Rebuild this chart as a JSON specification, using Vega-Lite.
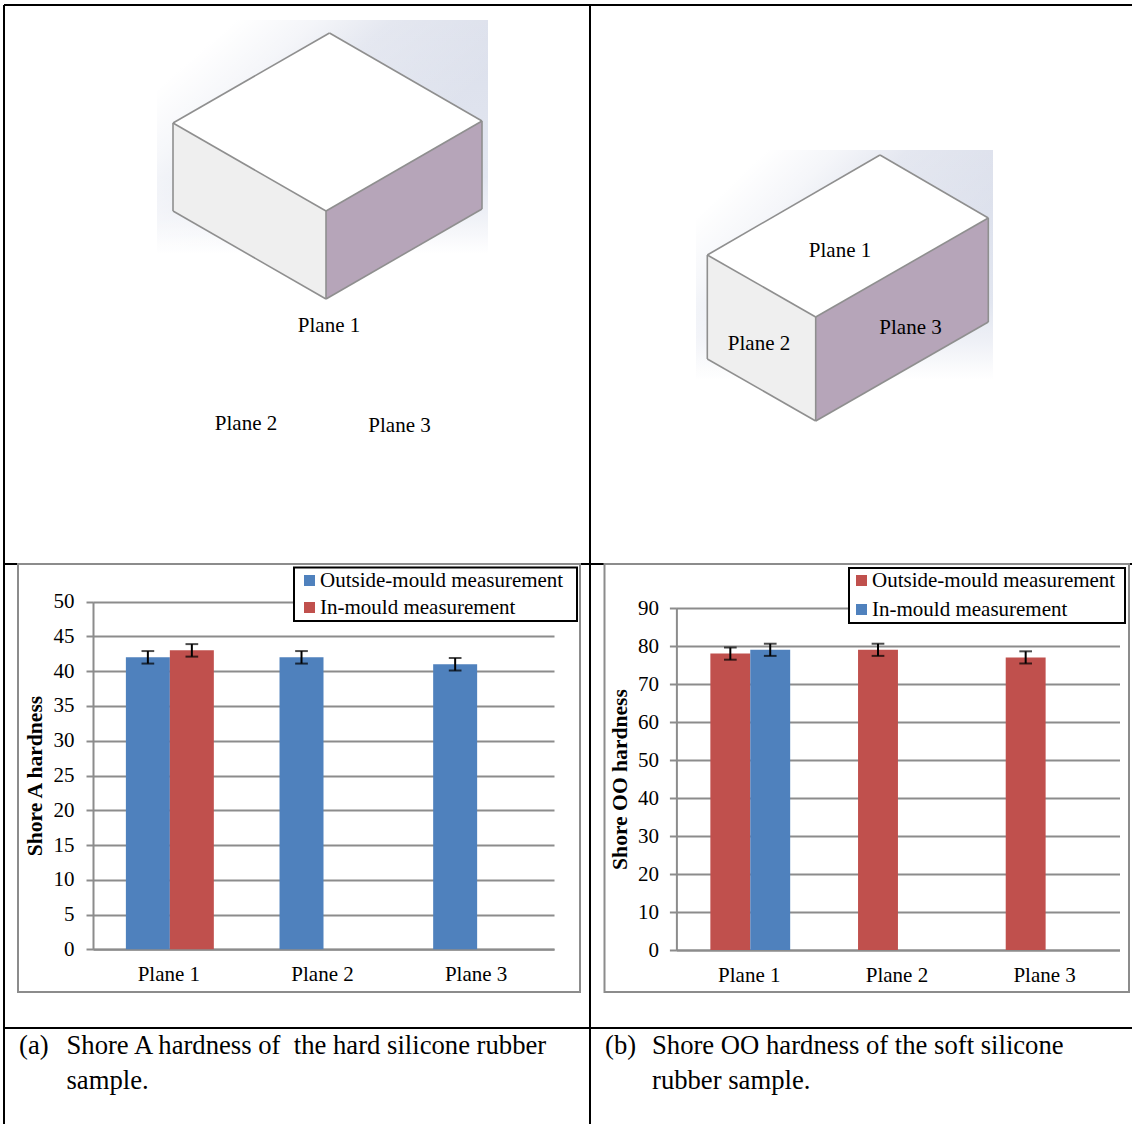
{"$schema":"https://vega.github.io/schema/vega-lite/v6.json","padding":0,"background":"white","spacing":0,"bounds":"flush","columns":2,"resolve":{"scale":{"color":"independent","xOffset":"independent"}},"config":{"view":{"stroke":null},"text":{"font":"Liberation Serif"},"axis":{"labelFont":"Liberation Serif","titleFont":"Liberation Serif","labelColor":"black","titleColor":"black"},"legend":{"labelFont":"Liberation Serif"}},"concat":[
{"width":590,"height":564,"layer":[
{"data":{"values":[{"x":157,"x2":488,"y":20,"y2":305}]},"mark":{"type":"rect","fill":{"gradient":"linear","x1":0,"y1":0,"x2":0,"y2":1,"stops":[{"offset":0,"color":"#dbdfeb"},{"offset":0.55,"color":"#e2e6f0"},{"offset":0.68,"color":"#eef0f6"},{"offset":0.82,"color":"#ffffff"},{"offset":1,"color":"#ffffff"}]}},"encoding":{"x":{"field":"x","type":"quantitative","scale":{"domain":[0,590],"nice":false,"zero":false},"axis":null},"x2":{"field":"x2"},"y":{"field":"y","type":"quantitative","scale":{"domain":[564,0],"nice":false,"zero":false},"axis":null},"y2":{"field":"y2"}}},
{"data":{"values":[{"x":157,"x2":488,"y":20,"y2":305}]},"mark":{"type":"rect","fill":{"gradient":"linear","x1":0,"y1":0,"x2":0.8,"y2":0.8,"stops":[{"offset":0,"color":"#ffffff"},{"offset":0.15,"color":"#ffffff"},{"offset":0.3,"color":"rgba(255,255,255,0.7)"},{"offset":0.45,"color":"rgba(255,255,255,0.25)"},{"offset":0.75,"color":"rgba(255,255,255,0)"},{"offset":1,"color":"rgba(255,255,255,0)"}]}},"encoding":{"x":{"field":"x","type":"quantitative"},"x2":{"field":"x2"},"y":{"field":"y","type":"quantitative"},"y2":{"field":"y2"}}},
{"data":{"values":[{"face":"top","x":173,"y":123,"y2":123},{"face":"top","x":326,"y":35,"y2":211},{"face":"top","x":329.5,"y":33,"y2":209},{"face":"top","x":482,"y":121,"y2":121},{"face":"left","x":173,"y":123,"y2":211},{"face":"left","x":326,"y":211,"y2":299},{"face":"right","x":326,"y":211,"y2":299},{"face":"right","x":482,"y":121,"y2":209}]},"mark":{"type":"area","line":false},"encoding":{"x":{"field":"x","type":"quantitative"},"y":{"field":"y","type":"quantitative","stack":null},"y2":{"field":"y2"},"color":{"field":"face","type":"nominal","legend":null,"scale":{"domain":["top","left","right"],"range":["#ffffff","#efefef","#b6a5b9"]}}}},
{"data":{"values":[{"x":329.5,"y":33,"x2":482,"y2":121},{"x":329.5,"y":33,"x2":173,"y2":123},{"x":173,"y":123,"x2":326,"y2":211},{"x":326,"y":211,"x2":482,"y2":121},{"x":173,"y":123,"x2":173,"y2":211},{"x":326,"y":211,"x2":326,"y2":299},{"x":482,"y":121,"x2":482,"y2":209},{"x":173,"y":211,"x2":326,"y2":299},{"x":326,"y":299,"x2":482,"y2":209}]},"mark":{"type":"rule","color":"#8f8f8f","strokeWidth":1.6},"encoding":{"x":{"field":"x","type":"quantitative"},"y":{"field":"y","type":"quantitative"},"x2":{"field":"x2"},"y2":{"field":"y2"}}},
{"data":{"values":[{"x":4,"y":5,"x2":590,"y2":5},{"x":4,"y":5,"x2":4,"y2":564},{"x":590,"y":5,"x2":590,"y2":564},{"x":4,"y":564,"x2":590,"y2":564}]},"mark":{"type":"rule","color":"black","strokeWidth":2},"encoding":{"x":{"field":"x","type":"quantitative"},"y":{"field":"y","type":"quantitative"},"x2":{"field":"x2"},"y2":{"field":"y2"}}},
{"data":{"values":[{"x":329,"y":326,"t":"Plane 1"},{"x":246,"y":424,"t":"Plane 2"},{"x":399.5,"y":426,"t":"Plane 3"}]},"mark":{"type":"text","fontSize":21,"color":"black"},"encoding":{"x":{"field":"x","type":"quantitative"},"y":{"field":"y","type":"quantitative"},"text":{"field":"t"}}}
]},
{"width":542,"height":564,"layer":[
{"data":{"values":[{"x":696,"x2":993,"y":150,"y2":430}]},"mark":{"type":"rect","fill":{"gradient":"linear","x1":0,"y1":0,"x2":0,"y2":1,"stops":[{"offset":0,"color":"#dbdfeb"},{"offset":0.55,"color":"#e2e6f0"},{"offset":0.68,"color":"#eef0f6"},{"offset":0.82,"color":"#ffffff"},{"offset":1,"color":"#ffffff"}]}},"encoding":{"x":{"field":"x","type":"quantitative","scale":{"domain":[590,1132],"nice":false,"zero":false},"axis":null},"x2":{"field":"x2"},"y":{"field":"y","type":"quantitative","scale":{"domain":[564,0],"nice":false,"zero":false},"axis":null},"y2":{"field":"y2"}}},
{"data":{"values":[{"x":696,"x2":993,"y":150,"y2":430}]},"mark":{"type":"rect","fill":{"gradient":"linear","x1":0,"y1":0,"x2":0.8,"y2":0.8,"stops":[{"offset":0,"color":"#ffffff"},{"offset":0.15,"color":"#ffffff"},{"offset":0.3,"color":"rgba(255,255,255,0.7)"},{"offset":0.45,"color":"rgba(255,255,255,0.25)"},{"offset":0.75,"color":"rgba(255,255,255,0)"},{"offset":1,"color":"rgba(255,255,255,0)"}]}},"encoding":{"x":{"field":"x","type":"quantitative"},"x2":{"field":"x2"},"y":{"field":"y","type":"quantitative"},"y2":{"field":"y2"}}},
{"data":{"values":[{"face":"top","x":707.3,"y":255,"y2":255},{"face":"top","x":815.7,"y":192,"y2":317},{"face":"top","x":880,"y":155,"y2":280},{"face":"top","x":988.3,"y":218,"y2":218},{"face":"left","x":707.3,"y":255,"y2":359},{"face":"left","x":815.7,"y":317,"y2":421},{"face":"right","x":815.7,"y":317,"y2":421},{"face":"right","x":988.3,"y":218,"y2":322}]},"mark":{"type":"area","line":false},"encoding":{"x":{"field":"x","type":"quantitative"},"y":{"field":"y","type":"quantitative","stack":null},"y2":{"field":"y2"},"color":{"field":"face","type":"nominal","legend":null,"scale":{"domain":["top","left","right"],"range":["#ffffff","#efefef","#b6a5b9"]}}}},
{"data":{"values":[{"x":880,"y":155,"x2":988.3,"y2":218},{"x":880,"y":155,"x2":707.3,"y2":255},{"x":707.3,"y":255,"x2":815.7,"y2":317},{"x":815.7,"y":317,"x2":988.3,"y2":218},{"x":707.3,"y":255,"x2":707.3,"y2":359},{"x":815.7,"y":317,"x2":815.7,"y2":421},{"x":988.3,"y":218,"x2":988.3,"y2":322},{"x":707.3,"y":359,"x2":815.7,"y2":421},{"x":815.7,"y":421,"x2":988.3,"y2":322}]},"mark":{"type":"rule","color":"#8f8f8f","strokeWidth":1.6},"encoding":{"x":{"field":"x","type":"quantitative"},"y":{"field":"y","type":"quantitative"},"x2":{"field":"x2"},"y2":{"field":"y2"}}},
{"data":{"values":[{"x":590,"y":5,"x2":1132,"y2":5},{"x":590,"y":564,"x2":1132,"y2":564}]},"mark":{"type":"rule","color":"black","strokeWidth":2},"encoding":{"x":{"field":"x","type":"quantitative"},"y":{"field":"y","type":"quantitative"},"x2":{"field":"x2"},"y2":{"field":"y2"}}},
{"data":{"values":[{"x":840,"y":251,"t":"Plane 1"},{"x":759,"y":344,"t":"Plane 2"},{"x":910.5,"y":328,"t":"Plane 3"}]},"mark":{"type":"text","fontSize":21,"color":"black"},"encoding":{"x":{"field":"x","type":"quantitative"},"y":{"field":"y","type":"quantitative"},"text":{"field":"t"}}}
]},
{"width":590,"height":464,"resolve":{"scale":{"x":"independent","y":"independent"}},"layer":[
{"layer":[
{"data":{"values":[{"x":18,"x2":580,"y":564,"y2":992}]},"mark":{"type":"rect","fill":null,"stroke":"#8c8c8c","strokeWidth":2},"encoding":{"x":{"field":"x","type":"quantitative","scale":{"domain":[0,590],"nice":false,"zero":false},"axis":null},"x2":{"field":"x2"},"y":{"field":"y","type":"quantitative","scale":{"domain":[1028,564],"nice":false,"zero":false},"axis":null},"y2":{"field":"y2"}}},
{"data":{"values":[{"x":294,"x2":577,"y":567.5,"y2":621}]},"mark":{"type":"rect","fill":"white","stroke":"black","strokeWidth":2},"encoding":{"x":{"field":"x","type":"quantitative"},"x2":{"field":"x2"},"y":{"field":"y","type":"quantitative"},"y2":{"field":"y2"}}},
{"data":{"values":[{"x":4,"y":564,"x2":4,"y2":1028},{"x":590,"y":564,"x2":590,"y2":1028},{"x":4,"y":1028,"x2":590,"y2":1028}]},"mark":{"type":"rule","color":"black","strokeWidth":2},"encoding":{"x":{"field":"x","type":"quantitative"},"y":{"field":"y","type":"quantitative"},"x2":{"field":"x2"},"y2":{"field":"y2"}}}
]},
{"data":{"values":[{"plane":"Plane 1","series":"Outside-mould measurement","value":42,"lo":41.1,"hi":42.9},{"plane":"Plane 1","series":"In-mould measurement","value":43,"lo":42.1,"hi":43.9},{"plane":"Plane 2","series":"Outside-mould measurement","value":42,"lo":41.1,"hi":42.9},{"plane":"Plane 3","series":"Outside-mould measurement","value":41,"lo":40.1,"hi":41.9}]},
"encoding":{"x":{"field":"plane","type":"nominal","title":null,"scale":{"domain":["Plane 1","Plane 2","Plane 3"],"range":[93,554],"paddingInner":0.4275,"paddingOuter":0.214},"axis":{"orient":"bottom","offset":-78.7,"labelAngle":0,"labelFontSize":21,"labelPadding":14,"labelOffset":-1,"ticks":false,"domainColor":"#8c8c8c","domainWidth":2,"grid":false}},"xOffset":{"field":"series","type":"nominal","scale":{"domain":["Outside-mould measurement","In-mould measurement"],"paddingInner":0,"paddingOuter":0}}},
"layer":[
{"mark":{"type":"bar","stroke":null},"encoding":{"y":{"field":"value","type":"quantitative","title":"Shore A hardness","scale":{"domain":[0,50],"range":[385.3,37.7],"nice":false},"axis":{"orient":"left","offset":-93,"values":[0,5,10,15,20,25,30,35,40,45,50],"labelFontSize":21,"labelPadding":12,"tickSize":7,"tickWidth":2,"tickColor":"#8c8c8c","domainColor":"#8c8c8c","domainWidth":2,"grid":true,"gridColor":"#8c8c8c","gridWidth":2,"titleFontSize":21.6,"titleFontWeight":"bold","titlePadding":7}},"color":{"field":"series","type":"nominal","title":null,"scale":{"domain":["Outside-mould measurement","In-mould measurement"],"range":["#4f81bd","#c0504d"]},"legend":{"orient":"none","legendX":299,"legendY":6,"padding":0,"labelFontSize":21,"labelColor":"black","symbolType":"square","symbolSize":121,"symbolStrokeWidth":0,"labelOffset":0,"rowPadding":5,"labelLimit":400}}}},
{"mark":{"type":"rule","color":"black","strokeWidth":2},"encoding":{"y":{"field":"lo","type":"quantitative"},"y2":{"field":"hi"}}},
{"mark":{"type":"tick","color":"black","size":12.7,"thickness":2},"encoding":{"y":{"field":"lo","type":"quantitative"}}},
{"mark":{"type":"tick","color":"black","size":12.7,"thickness":2},"encoding":{"y":{"field":"hi","type":"quantitative"}}}
]}
]},
{"width":542,"height":464,"resolve":{"scale":{"x":"independent","y":"independent"}},"layer":[
{"layer":[
{"data":{"values":[{"x":604.5,"x2":1129,"y":564,"y2":992}]},"mark":{"type":"rect","fill":null,"stroke":"#8c8c8c","strokeWidth":2},"encoding":{"x":{"field":"x","type":"quantitative","scale":{"domain":[590,1132],"nice":false,"zero":false},"axis":null},"x2":{"field":"x2"},"y":{"field":"y","type":"quantitative","scale":{"domain":[1028,564],"nice":false,"zero":false},"axis":null},"y2":{"field":"y2"}}},
{"data":{"values":[{"x":849,"x2":1125,"y":568,"y2":623}]},"mark":{"type":"rect","fill":"white","stroke":"black","strokeWidth":2},"encoding":{"x":{"field":"x","type":"quantitative"},"x2":{"field":"x2"},"y":{"field":"y","type":"quantitative"},"y2":{"field":"y2"}}},
{"data":{"values":[{"x":590,"y":1028,"x2":1132,"y2":1028}]},"mark":{"type":"rule","color":"black","strokeWidth":2},"encoding":{"x":{"field":"x","type":"quantitative"},"y":{"field":"y","type":"quantitative"},"x2":{"field":"x2"},"y2":{"field":"y2"}}}
]},
{"data":{"values":[{"plane":"Plane 1","series":"Outside-mould measurement","value":78,"lo":76.4,"hi":79.6},{"plane":"Plane 1","series":"In-mould measurement","value":79,"lo":77.4,"hi":80.6},{"plane":"Plane 2","series":"Outside-mould measurement","value":79,"lo":77.4,"hi":80.6},{"plane":"Plane 3","series":"Outside-mould measurement","value":77,"lo":75.4,"hi":78.6}]},
"encoding":{"x":{"field":"plane","type":"nominal","title":null,"scale":{"domain":["Plane 1","Plane 2","Plane 3"],"range":[86.4,529.5],"paddingInner":0.4595,"paddingOuter":0.23},"axis":{"orient":"bottom","offset":-78,"labelAngle":0,"labelFontSize":21,"labelPadding":14,"labelOffset":-1,"ticks":false,"domainColor":"#8c8c8c","domainWidth":2,"grid":false}},"xOffset":{"field":"series","type":"nominal","scale":{"domain":["Outside-mould measurement","In-mould measurement"],"paddingInner":0,"paddingOuter":0}}},
"layer":[
{"mark":{"type":"bar","stroke":null},"encoding":{"y":{"field":"value","type":"quantitative","title":"Shore OO hardness","scale":{"domain":[0,90],"range":[386,44],"nice":false},"axis":{"orient":"left","offset":-86.4,"values":[0,10,20,30,40,50,60,70,80,90],"labelFontSize":21,"labelPadding":11,"tickSize":7,"tickWidth":2,"tickColor":"#8c8c8c","domainColor":"#8c8c8c","domainWidth":2,"grid":true,"gridColor":"#8c8c8c","gridWidth":2,"titleFontSize":21.6,"titleFontWeight":"bold","titlePadding":6}},"color":{"field":"series","type":"nominal","title":null,"scale":{"domain":["Outside-mould measurement","In-mould measurement"],"range":["#c0504d","#4f81bd"]},"legend":{"orient":"none","legendX":261,"legendY":6,"padding":0,"labelFontSize":21,"labelColor":"black","symbolType":"square","symbolSize":121,"symbolStrokeWidth":0,"labelOffset":0,"rowPadding":7,"labelLimit":400}}}},
{"mark":{"type":"rule","color":"black","strokeWidth":2},"encoding":{"y":{"field":"lo","type":"quantitative"},"y2":{"field":"hi"}}},
{"mark":{"type":"tick","color":"black","size":12.7,"thickness":2},"encoding":{"y":{"field":"lo","type":"quantitative"}}},
{"mark":{"type":"tick","color":"black","size":12.7,"thickness":2},"encoding":{"y":{"field":"hi","type":"quantitative"}}}
]}
]},
{"width":590,"height":96,"layer":[
{"data":{"values":[{"x":4,"y":1028,"x2":4,"y2":1124},{"x":590,"y":1028,"x2":590,"y2":1124}]},"mark":{"type":"rule","color":"black","strokeWidth":2},"encoding":{"x":{"field":"x","type":"quantitative","scale":{"domain":[0,590],"nice":false,"zero":false},"axis":null},"y":{"field":"y","type":"quantitative","scale":{"domain":[1124,1028],"nice":false,"zero":false},"axis":null},"x2":{"field":"x2"},"y2":{"field":"y2"}}},
{"data":{"values":[{"x":19,"y":1054,"t":"(a)"},{"x":66.5,"y":1054,"t":"Shore A hardness of \u00a0the hard silicone rubber"},{"x":66.5,"y":1089,"t":"sample."}]},"mark":{"type":"text","fontSize":26.67,"color":"black","align":"left","baseline":"alphabetic"},"encoding":{"x":{"field":"x","type":"quantitative"},"y":{"field":"y","type":"quantitative"},"text":{"field":"t"}}}
]},
{"width":542,"height":96,"layer":[
{"data":{"values":[{"x":605,"y":1054,"t":"(b)"},{"x":652,"y":1054,"t":"Shore OO hardness of the soft silicone"},{"x":652,"y":1089,"t":"rubber sample."}]},"mark":{"type":"text","fontSize":26.67,"color":"black","align":"left","baseline":"alphabetic"},"encoding":{"x":{"field":"x","type":"quantitative","scale":{"domain":[590,1132],"nice":false,"zero":false},"axis":null},"y":{"field":"y","type":"quantitative","scale":{"domain":[1124,1028],"nice":false,"zero":false},"axis":null},"text":{"field":"t"}}}
]}
]}
